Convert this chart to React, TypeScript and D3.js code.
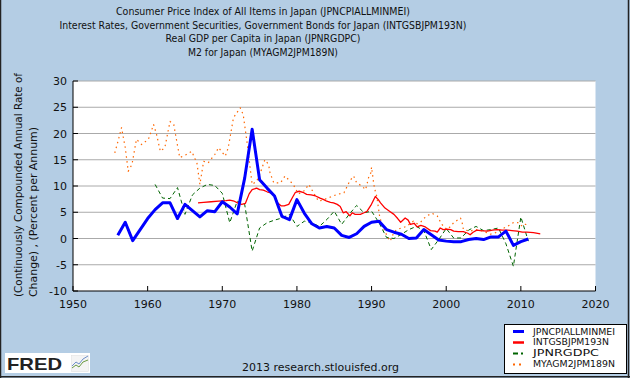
import React from 'react';
import * as d3 from 'd3';

const titleLines = [
  'Consumer Price Index of All Items in Japan (JPNCPIALLMINMEI)',
  'Interest Rates, Government Securities, Government Bonds for Japan (INTGSBJPM193N)',
  'Real GDP per Capita in Japan (JPNRGDPC)',
  'M2 for Japan (MYAGM2JPM189N)',
];
const titleWidths = [294, 407, 195, 150];
const yLabelLines = ['(Continuously Compounded Annual Rate of', 'Change) , (Percent per Annum)'];
const yLabelWidths = [224, 170];
const yTicks = [-10, -5, 0, 5, 10, 15, 20, 25, 30];
const xTicks = [1950, 1960, 1970, 1980, 1990, 2000, 2010, 2020];

const cpiYears = d3.range(1956, 2012);
const cpiValues = [
  0.6, 3.1, -0.4, 1.7, 3.8, 5.5, 6.8, 6.8, 3.8, 6.5,
  5.3, 4.1, 5.3, 5.1, 7.0, 6.0, 4.7, 11.5, 20.8, 11.2,
  9.6, 8.1, 4.2, 3.6, 7.4, 4.8, 2.8, 2.0, 2.3, 2.0,
  0.6, 0.2, 0.9, 2.3, 3.1, 3.3, 1.7, 1.2, 0.8, 0.0,
  0.1, 1.7, 0.7, -0.3, -0.5, -0.6, -0.6, -0.2, 0.0, -0.2,
  0.3, 0.3, 1.4, -1.3, -0.6, -0.1,
];

const bondDates = [
  1966.75, 1967.5, 1968.5, 1969.5, 1970.5, 1971.0, 1971.6, 1972.2, 1972.6, 1973.1,
  1973.6, 1974.0, 1974.6, 1975.0, 1975.5, 1976.0, 1976.5, 1977.0, 1977.4, 1977.9,
  1978.3, 1978.9, 1979.4, 1979.8, 1980.3, 1980.8, 1981.3, 1981.9, 1982.5, 1983.1,
  1983.6, 1984.0, 1984.5, 1984.9, 1985.4, 1985.8, 1986.2, 1986.6, 1987.1, 1987.4,
  1987.8, 1988.5, 1989.0, 1989.4, 1989.9, 1990.5, 1990.9, 1991.2, 1991.8, 1992.4,
  1993.0, 1993.5, 1993.9, 1994.5, 1994.9, 1995.2, 1995.7, 1996.1, 1996.6, 1997.2,
  1997.9, 1998.5, 1998.8, 1999.2, 1999.6, 2000.1, 2000.6, 2001.0, 2001.6, 2002.3,
  2002.9, 2003.2, 2003.6, 2004.1, 2004.6, 2005.5, 2006.2, 2006.8, 2007.5, 2008.2,
  2008.8, 2009.5, 2010.2, 2010.8, 2011.7, 2012.6,
];
const bondValues = [
  6.8, 6.9, 7.0, 7.1, 7.2, 7.3, 7.1, 6.7, 6.5, 6.7,
  8.5, 9.3, 9.6, 9.3, 9.2, 8.9, 8.7, 8.2, 6.8, 6.2,
  6.2, 6.5, 7.8, 8.8, 9.0, 8.8, 8.4, 8.3, 8.1, 7.7,
  7.4, 7.1, 6.9, 6.8, 6.5, 6.1, 4.9, 5.1, 4.3, 4.9,
  4.6, 4.6, 4.9, 5.2, 6.3, 8.0, 7.4, 6.8, 5.8, 5.2,
  4.6, 3.8, 3.1, 3.9, 3.5, 2.7, 2.9, 2.2, 2.5, 2.2,
  1.5, 1.4, 1.2, 2.0, 1.7, 1.8, 1.7, 1.4, 1.3, 1.3,
  1.0, 0.7, 1.2, 1.6, 1.5, 1.4, 1.6, 1.7, 1.6, 1.6,
  1.5, 1.4, 1.2, 1.2, 1.1, 0.9,
];

const gdpYears = d3.range(1961, 2012);
const gdpValues = [
  10.3, 7.7, 7.6, 9.7, 4.6, 8.3, 9.6, 10.3, 10.1, 8.6,
  3.0, 7.1, 6.5, -2.4, 2.0, 3.0, 3.5, 3.9, 4.6, 2.3,
  3.3, 3.0, 2.3, 3.6, 5.2, 2.7, 4.6, 6.3, 4.9, 5.2,
  3.0, 0.2, 0.0, 0.8, 1.7, 2.3, 1.5, -2.1, -0.2, 1.9,
  0.1, 0.1, 1.6, 2.3, 1.5, 1.7, 2.0, -1.0, -5.3, 4.1,
  -0.5,
];

const m2Dates = [
  1955.6, 1956.1, 1956.5, 1957.0, 1957.4, 1957.9, 1958.5, 1959.2, 1960.1, 1960.8,
  1961.2, 1961.7, 1962.3, 1963.0, 1963.5, 1963.9, 1964.3, 1965.2, 1965.9, 1966.6,
  1967.0, 1967.5, 1968.1, 1969.0, 1969.5, 1970.4, 1970.8, 1971.5, 1972.4, 1972.8,
  1973.3, 1974.0, 1974.6, 1975.1, 1975.7, 1976.2, 1976.4, 1976.9, 1977.8, 1978.4,
  1979.1, 1979.5, 1980.2, 1980.9, 1981.6, 1982.3, 1982.9, 1983.6, 1984.5, 1985.4,
  1986.3, 1987.1, 1987.6, 1988.0, 1988.7, 1989.2, 1989.6, 1989.9, 1990.0, 1990.3,
  1990.5, 1990.7, 1991.1, 1991.6, 1992.1, 1992.5, 1993.0, 1993.4, 1994.0, 1994.7,
  1995.3, 1995.6, 1996.1, 1996.5, 1997.0, 1997.4, 1998.1, 1998.8, 1999.4, 2000.1,
  2000.5, 2001.0, 2001.9, 2002.1, 2002.3, 2003.2, 2003.9, 2005.0, 2005.9, 2006.6,
  2007.3, 2008.2, 2009.1, 2009.7, 2010.2, 2010.6, 2011.0,
];
const m2Values = [
  16.3, 18.9, 21.1, 17.3, 12.8, 14.1, 18.9, 17.9, 18.9, 21.7,
  19.8, 16.6, 17.3, 22.3, 21.7, 18.5, 15.4, 16.0, 16.6, 14.4,
  10.3, 14.7, 14.4, 16.0, 17.3, 15.7, 17.3, 23.0, 24.9, 23.6,
  18.5, 10.3, 10.9, 12.5, 15.0, 14.1, 12.5, 10.6, 10.6, 11.9,
  10.9, 10.3, 8.5, 9.0, 10.3, 8.5, 7.1, 7.4, 7.9, 8.4,
  8.7, 11.0, 11.9, 10.6, 10.0, 9.3, 11.6, 12.5, 13.6, 10.3,
  9.0, 8.0, 4.0, 2.0, 0.4, -0.5, 1.2, 1.7, 2.0, 2.3,
  3.0, 3.3, 2.8, 3.0, 3.8, 4.3, 4.8, 4.3, 2.7, 1.7,
  2.2, 3.0, 3.9, 3.3, 1.7, 1.4, 1.7, 1.4, 0.8, 1.1,
  1.7, 2.3, 3.1, 3.0, 2.3, 2.7, 2.6,
];

const legendNames = ['JPNCPIALLMINMEI', 'INTGSBJPM193N', 'JPNRGDPC', 'MYAGM2JPM189N'];
const legendWidths = [82, 76, 66, 82];

const W = 630;
const H = 378;
const BG = '#B4CDE4';
const FONT = '"DejaVu Sans", Verdana, sans-serif';

export default function App() {
  const x = d3.scaleLinear().domain([1950, 2020]).range([73, 595.5]);
  const y = d3.scaleLinear().domain([-10, 30]).range([291, 81]);
  const line = d3
    .line<[number, number]>()
    .x((d) => x(d[0]))
    .y((d) => y(d[1]));

  const cpi = cpiYears.map((yr, i) => [yr, cpiValues[i]] as [number, number]);
  const bond = bondDates.map((yr, i) => [yr, bondValues[i]] as [number, number]);
  const gdp = gdpYears.map((yr, i) => [yr, gdpValues[i]] as [number, number]);
  const m2 = m2Dates.map((yr, i) => [yr, m2Values[i]] as [number, number]);

  const series = [
    { name: legendNames[0], d: line(cpi), color: '#0000FF', width: 3, dash: undefined },
    { name: legendNames[1], d: line(bond), color: '#FF0000', width: 1.3, dash: undefined },
    { name: legendNames[2], d: line(gdp), color: '#006400', width: 1, dash: '4,3' },
    { name: legendNames[3], d: line(m2), color: '#FF6600', width: 1.2, dash: '1.5,3.5' },
  ];
  const drawOrder = [3, 2, 1, 0];
  const legendDash = [undefined, undefined, '5,3,2,10', '2,4'];
  const legendWidth = [3, 2.5, 2, 2];

  const [x0, x1] = x.range();
  const [yb, yt] = y.range();

  return (
    <div style={{ position: 'fixed', left: 0, top: 0 }}>
      <svg width={W} height={H} style={{ display: 'block' }} fontFamily={FONT}>
        <rect x={0} y={0} width={W} height={H} fill={BG} />
        {/* outer border */}
        <line x1={0.5} y1={0} x2={0.5} y2={H} stroke="#222" strokeWidth={1.5} />
        <line x1={628.5} y1={0} x2={628.5} y2={H} stroke="#222" strokeWidth={1.5} />
        <line x1={0} y1={376.8} x2={W} y2={376.8} stroke="#222" strokeWidth={1.5} />

        {/* titles */}
        {titleLines.map((t, i) => (
          <text
            key={t}
            x={263}
            y={15 + i * 13.7}
            fontSize={11}
            textAnchor="middle"
            fill="#111"
            textLength={titleWidths[i]}
            lengthAdjust="spacingAndGlyphs"
          >
            {t}
          </text>
        ))}

        {/* y label */}
        {yLabelLines.map((t, i) => (
          <text
            key={t}
            transform={`translate(${22 + i * 14.5},297) rotate(-90)`}
            fontSize={11}
            fill="#111"
            textLength={yLabelWidths[i]}
            lengthAdjust="spacingAndGlyphs"
          >
            {t}
          </text>
        ))}

        {/* plot background */}
        <rect x={x0} y={yt} width={x1 - x0} height={yb - yt} fill="#fff" />
        {yTicks.filter((v) => v !== -10).map((v) => (
          <line key={v} x1={x0} x2={x1} y1={y(v)} y2={y(v)} stroke="#aaa" strokeWidth={1} />
        ))}

        {/* series */}
        <g clipPath="url(#clip)">
          {drawOrder.map((k) => {
            const s = series[k];
            return (
              <path
                key={s.name}
                d={s.d || ''}
                fill="none"
                stroke={s.color}
                strokeWidth={s.width}
                strokeDasharray={s.dash}
                strokeLinejoin="round"
              />
            );
          })}
        </g>
        <defs>
          <clipPath id="clip">
            <rect x={x0} y={yt} width={x1 - x0} height={yb - yt} />
          </clipPath>
        </defs>

        {/* axes */}
        <line x1={x0} x2={x0} y1={yt} y2={yb} stroke="#000" strokeWidth={1} />
        <line x1={x0} x2={x1} y1={yb} y2={yb} stroke="#000" strokeWidth={1} />
        {yTicks.map((v) => (
          <g key={v}>
            <line x1={x0} x2={x0 + 5} y1={y(v)} y2={y(v)} stroke="#000" />
            <text x={67} y={y(v) + 4} fontSize={11} textAnchor="end" fill="#111">
              {v}
            </text>
          </g>
        ))}
        {xTicks.map((v) => (
          <g key={v}>
            <line x1={x(v)} x2={x(v)} y1={yb} y2={yb - 5} stroke="#000" />
            <text x={x(v)} y={308} fontSize={11} textAnchor="middle" fill="#111">
              {v}
            </text>
          </g>
        ))}

        {/* legend */}
        <rect x={504.5} y={324.5} width={122} height={49} fill="#fff" stroke="#000" strokeWidth={1} />
        {series.map((s, i) => (
          <g key={s.name}>
            <line
              x1={513}
              x2={524}
              y1={331.5 + i * 11}
              y2={331.5 + i * 11}
              stroke={s.color}
              strokeWidth={legendWidth[i]}
              strokeDasharray={legendDash[i]}
            />
            <text
              x={533}
              y={334.5 + i * 10.8}
              fontSize={8}
              fill="#111"
              textLength={legendWidths[i]}
              lengthAdjust="spacingAndGlyphs"
            >
              {s.name}
            </text>
          </g>
        ))}

        {/* FRED logo */}
        <rect x={5} y={353} width={85} height={20} fill="#fff" />
        <text
          x={7}
          y={369.5}
          fontSize={17}
          fontWeight="bold"
          fontFamily='"Liberation Sans", Arial, sans-serif'
          fill="#222"
          textLength={55}
          lengthAdjust="spacingAndGlyphs"
        >
          FRED
        </text>
        <rect x={71.5} y={355.5} width={17} height={16} fill="#f4f4f4" stroke="#ddd" strokeWidth={0.5} />
        <polyline points="72,368 76,365 79,367 83,362 88,360" fill="none" stroke="#6a9a40" strokeWidth={1} />
        <polyline points="72,366 76,362 79,364 83,359 88,356" fill="none" stroke="#6f8fc8" strokeWidth={1} />

        {/* footer */}
        <text x={242} y={371} fontSize={11} fill="#111" textLength={157} lengthAdjust="spacingAndGlyphs">
          2013 research.stlouisfed.org
        </text>
      </svg>
    </div>
  );
}
